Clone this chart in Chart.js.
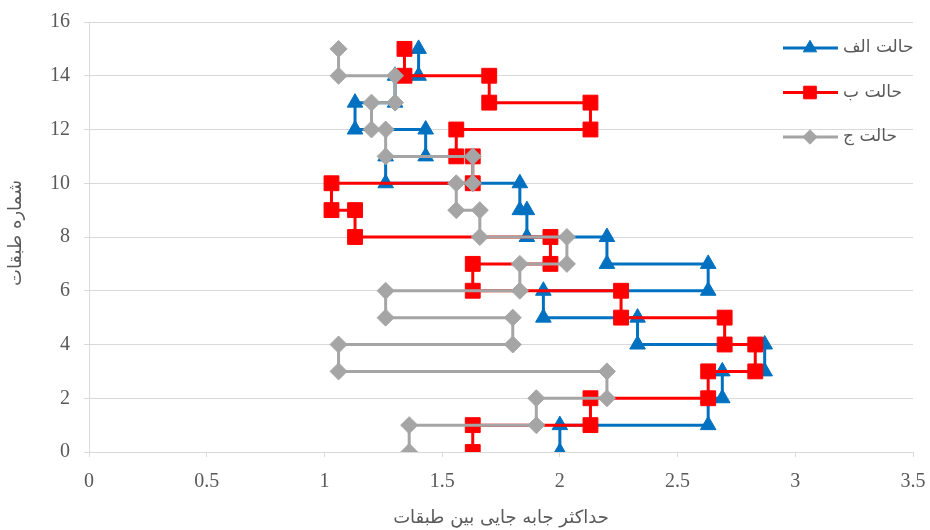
<!DOCTYPE html>
<html>
<head>
<meta charset="utf-8">
<script src="https://cdn.jsdelivr.net/npm/chart.js@4/dist/chart.umd.min.js"></script>
<style>
  html, body { margin: 0; padding: 0; background: #fff; }
  #wrap { width: 930px; height: 530px; position: relative; }
</style>
</head>
<body>
<div id="wrap"><canvas id="c" width="930" height="530"></canvas></div>
<script>
(() => {
  'use strict';

  // max inter-story drift per story (story 1..15)
  const DRIFT_A = [2.00, 2.63, 2.69, 2.87, 2.33, 1.93, 2.63, 2.20, 1.86, 1.83, 1.26, 1.43, 1.13, 1.30, 1.40];
  const DRIFT_B = [1.63, 2.13, 2.63, 2.83, 2.70, 2.26, 1.63, 1.96, 1.13, 1.03, 1.63, 1.56, 2.13, 1.70, 1.34];
  const DRIFT_C = [1.36, 1.90, 2.20, 1.06, 1.80, 1.26, 1.83, 2.03, 1.66, 1.56, 1.63, 1.26, 1.20, 1.30, 1.06];

  const SERIES_NAMES = ['حالت الف', 'حالت ب', 'حالت ج'];
  const X_TITLE = 'حداکثر جابه جایی بین طبقات';
  const Y_TITLE = 'شماره طبقات';

  const TEXT = '#595959', GRID = '#d9d9d9';

  // story i spans floor i-1 .. i, so each drift gives a vertical step
  const steps = (d) => d.flatMap((x, i) => [{ x: x, y: i }, { x: x, y: i + 1 }]);

  const STYLES = [
    { color: '#0070C0', marker: 'triangle', r: 9 },
    { color: '#FF0000', marker: 'rect', r: 10.5 },
    { color: '#A5A5A5', marker: 'rectRot', r: 8.5 },
  ];

  const datasets = [DRIFT_A, DRIFT_B, DRIFT_C].map((d, i) => ({
    label: SERIES_NAMES[i],
    data: steps(d),
    showLine: true,
    borderColor: STYLES[i].color,
    backgroundColor: STYLES[i].color,
    borderWidth: 3,
    pointStyle: STYLES[i].marker,
    pointRadius: STYLES[i].r,
    pointBorderWidth: 1,
    pointBorderColor: STYLES[i].color,
    pointBackgroundColor: STYLES[i].color,
    tension: 0,
    // later series sit on top, like the spreadsheet
    order: 3 - i,
  }));

  // legend drawn inside the plot, top right, plus the axis titles
  const overlay_plugin = {
    id: 'overlay',
    afterDraw(chart) {
      const ctx = chart.ctx;
      ctx.save();
      datasets.forEach((ds, i) => {
        const y = 48 + i * 44.5;
        ctx.strokeStyle = ds.borderColor;
        ctx.lineWidth = 3;
        ctx.beginPath();
        ctx.moveTo(783, y);
        ctx.lineTo(838, y);
        ctx.stroke();
        ctx.fillStyle = ds.borderColor;
        ctx.strokeStyle = ds.borderColor;
        ctx.lineWidth = 1;
        Chart.helpers.drawPoint(ctx, { pointStyle: ds.pointStyle, radius: ds.pointRadius * 0.85, borderWidth: 1 }, 810, y);
        ctx.fillStyle = TEXT;
        ctx.font = '17px "DejaVu Sans"';
        ctx.textAlign = 'left';
        ctx.textBaseline = 'middle';
        ctx.fillText(ds.label, 843, y);
      });

      const a = chart.chartArea;
      ctx.fillStyle = TEXT;
      ctx.font = '18px "DejaVu Sans"';
      ctx.textAlign = 'center';
      ctx.textBaseline = 'middle';
      ctx.fillText(X_TITLE, (a.left + a.right) / 2, 518);
      ctx.translate(16, (a.top + a.bottom) / 2 - 4);
      ctx.rotate(-Math.PI / 2);
      ctx.fillText(Y_TITLE, 0, 0);
      ctx.restore();
    },
  };

  new Chart(document.getElementById('c'), {
    type: 'scatter',
    data: { datasets: datasets },
    options: {
      responsive: false,
      animation: false,
      layout: { padding: { top: 22, right: 17, left: 0, bottom: 0 } },
      plugins: {
        legend: { display: false },
        tooltip: { enabled: false },
      },
      scales: {
        x: {
          type: 'linear',
          min: 0,
          max: 3.5,
          afterFit: (s) => { s.height = 78; s.paddingLeft = 0; s.paddingRight = 0; },
          ticks: {
            stepSize: 0.5,
            color: TEXT,
            padding: 13,
            font: { family: '"Liberation Serif"', size: 20 },
            callback: (v) => String(v),
          },
          grid: { drawOnChartArea: false, drawTicks: true, tickLength: 5, color: GRID },
          border: { color: GRID, width: 1 },
        },
        y: {
          type: 'linear',
          min: 0,
          max: 16,
          afterFit: (s) => { s.width = 89; s.paddingTop = 0; s.paddingBottom = 0; },
          ticks: {
            stepSize: 2,
            color: TEXT,
            padding: 14,
            font: { family: '"Liberation Serif"', size: 20 },
          },
          grid: { color: GRID, lineWidth: 1, tickLength: 5 },
          border: { color: GRID, width: 1 },
        },
      },
    },
    plugins: [overlay_plugin],
  });
})();
</script>
</body>
</html>
